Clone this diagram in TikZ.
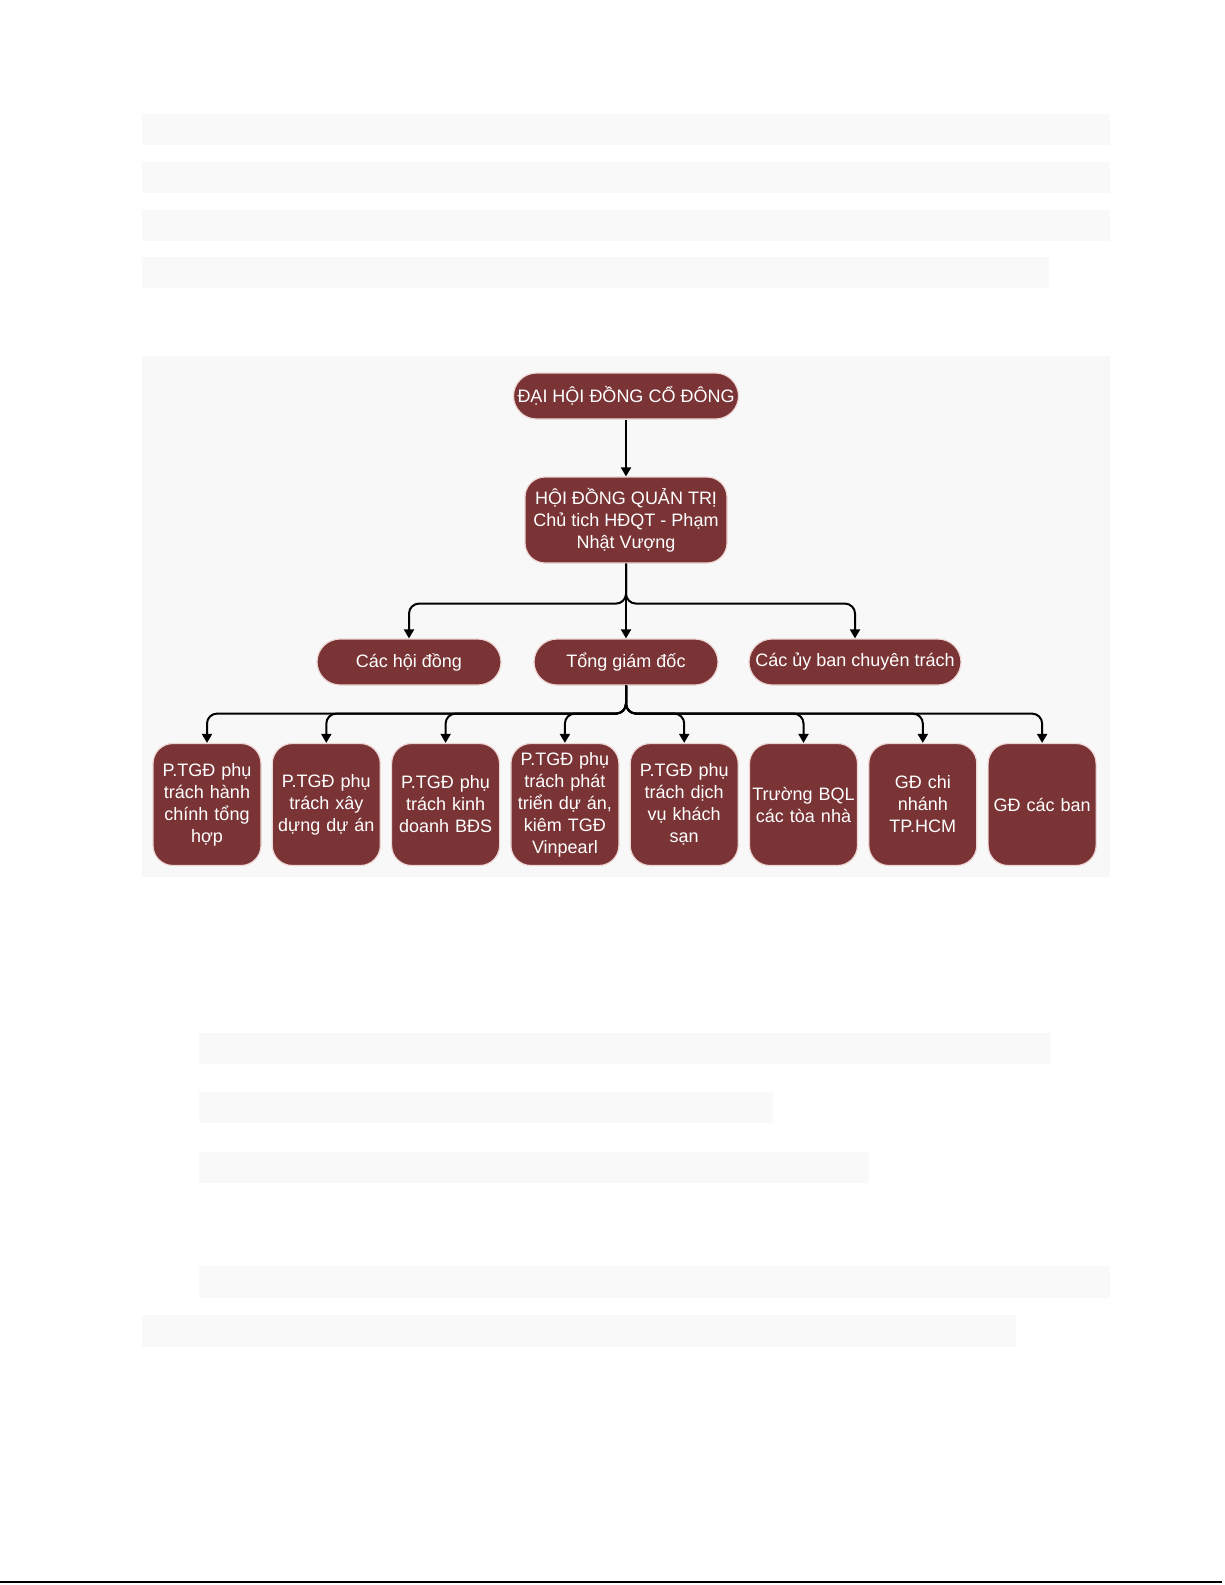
\documentclass[tikz,border=0pt]{standalone}
\usepackage{fontspec}
\setmainfont{Liberation Sans}
\usetikzlibrary{arrows.meta, positioning}
\definecolor{cMaroon}{RGB}{122,52,54}
\definecolor{cEdge}{RGB}{238,214,212}
\definecolor{cBar}{RGB}{249,249,249}
\definecolor{cPanel}{RGB}{248,248,248}
\tikzset{
	pill/.style  ={rectangle, rounded corners=11.5pt, minimum height=23pt, align=center, draw=cEdge, line width=0.6pt, fill=cMaroon, text=white, inner sep=2pt},
	unit/.style  ={rectangle, rounded corners=10pt, text width=52pt, minimum height=61pt, align=center, draw=cEdge, line width=0.6pt, fill=cMaroon, text=white, inner sep=1pt},
	conn/.style  ={-{Triangle[length=4.5pt, width=5pt]}, line width=1pt, rounded corners=5pt},
	% placeholder bars of the page
	bar/.style   ={fill=cBar, draw=none},
}
\begin{document}
\begin{tikzpicture}[x=0.5pt, y=-0.5pt, every node/.style={font=\fontsize{9}{11}\selectfont}, node distance=5.05pt]
			\useasboundingbox (0,0) rectangle (1225,1585);
			\fill[white] (0,0) rectangle (1225,1585);
			% page text above and below the chart
			\fill[bar] (141.5,114) rectangle (1110,144.5);
			\fill[bar] (141.5,162) rectangle (1110,193);
			\fill[bar] (141.5,209.5) rectangle (1110,240.5);
			\fill[bar] (141.5,257) rectangle (1049,288);
			\fill[cPanel] (141.5,356) rectangle (1110,877);
			\fill[bar] (199,1033) rectangle (1051,1063.5);
			\fill[bar] (199,1091.5) rectangle (773,1123);
			\fill[bar] (199,1151.5) rectangle (869,1183);
			\fill[bar] (199,1266) rectangle (1110,1298);
			\fill[bar] (141.5,1315) rectangle (1016,1347);
			\draw[line width=0.8pt] (0,1582) -- (1222,1582);
			% chart
			\node[pill, minimum width=110pt] (dhd) at (626,396) {ĐẠI HỘI ĐỒNG CỔ ĐÔNG};
			\node[pill, rounded corners=10pt, minimum width=101pt, minimum height=43pt] (hdqt) at (626,520) {HỘI ĐỒNG QUẢN TRỊ\\ Chủ tich HĐQT - Phạm\\ Nhật Vượng};
			\node[pill, minimum width=92pt] (cachd) at (409,662) {Các hội đồng};
			\node[pill, minimum width=92pt] (tgd) at (626,662) {Tổng giám đốc};
			\node[pill, minimum width=106pt] (uyban) at (855,662) {Các ủy ban chuyên trách};
			\node[unit] (b1) at (207,804.5) {P.TGĐ phụ\\ trách hành\\ chính tổng\\ hợp};
			\node[unit, right=of b1] (b2) {P.TGĐ phụ\\ trách xây\\ dựng dự án};
			\node[unit, right=of b2] (b3) {P.TGĐ phụ\\ trách kinh\\ doanh BĐS};
			\node[unit, right=of b3] (b4) {P.TGĐ phụ\\ trách phát\\ triển dự án,\\ kiêm TGĐ\\ Vinpearl};
			\node[unit, right=of b4] (b5) {P.TGĐ phụ\\ trách dịch\\ vụ khách\\ sạn};
			\node[unit, right=of b5] (b6) {Trường BQL\\ các tòa nhà};
			\node[unit, right=of b6] (b7) {GĐ chi\\ nhánh\\ TP.HCM};
			\node[unit, right=of b7] (b8) {GĐ các ban};
			\draw[conn] (dhd) -- (hdqt);
			\draw[conn] (hdqt.south) -- ++(0,40) -| (cachd.north);
			\draw[conn] (hdqt.south) -- (tgd.north);
			\draw[conn] (hdqt.south) -- ++(0,40) -| (uyban.north);
			\foreach \u in {b1,b2,b3,b4,b5,b6,b7,b8}
				\draw[conn] (tgd.south) -- ++(0,28) -| (\u.north);
		\end{tikzpicture}
\end{document}
